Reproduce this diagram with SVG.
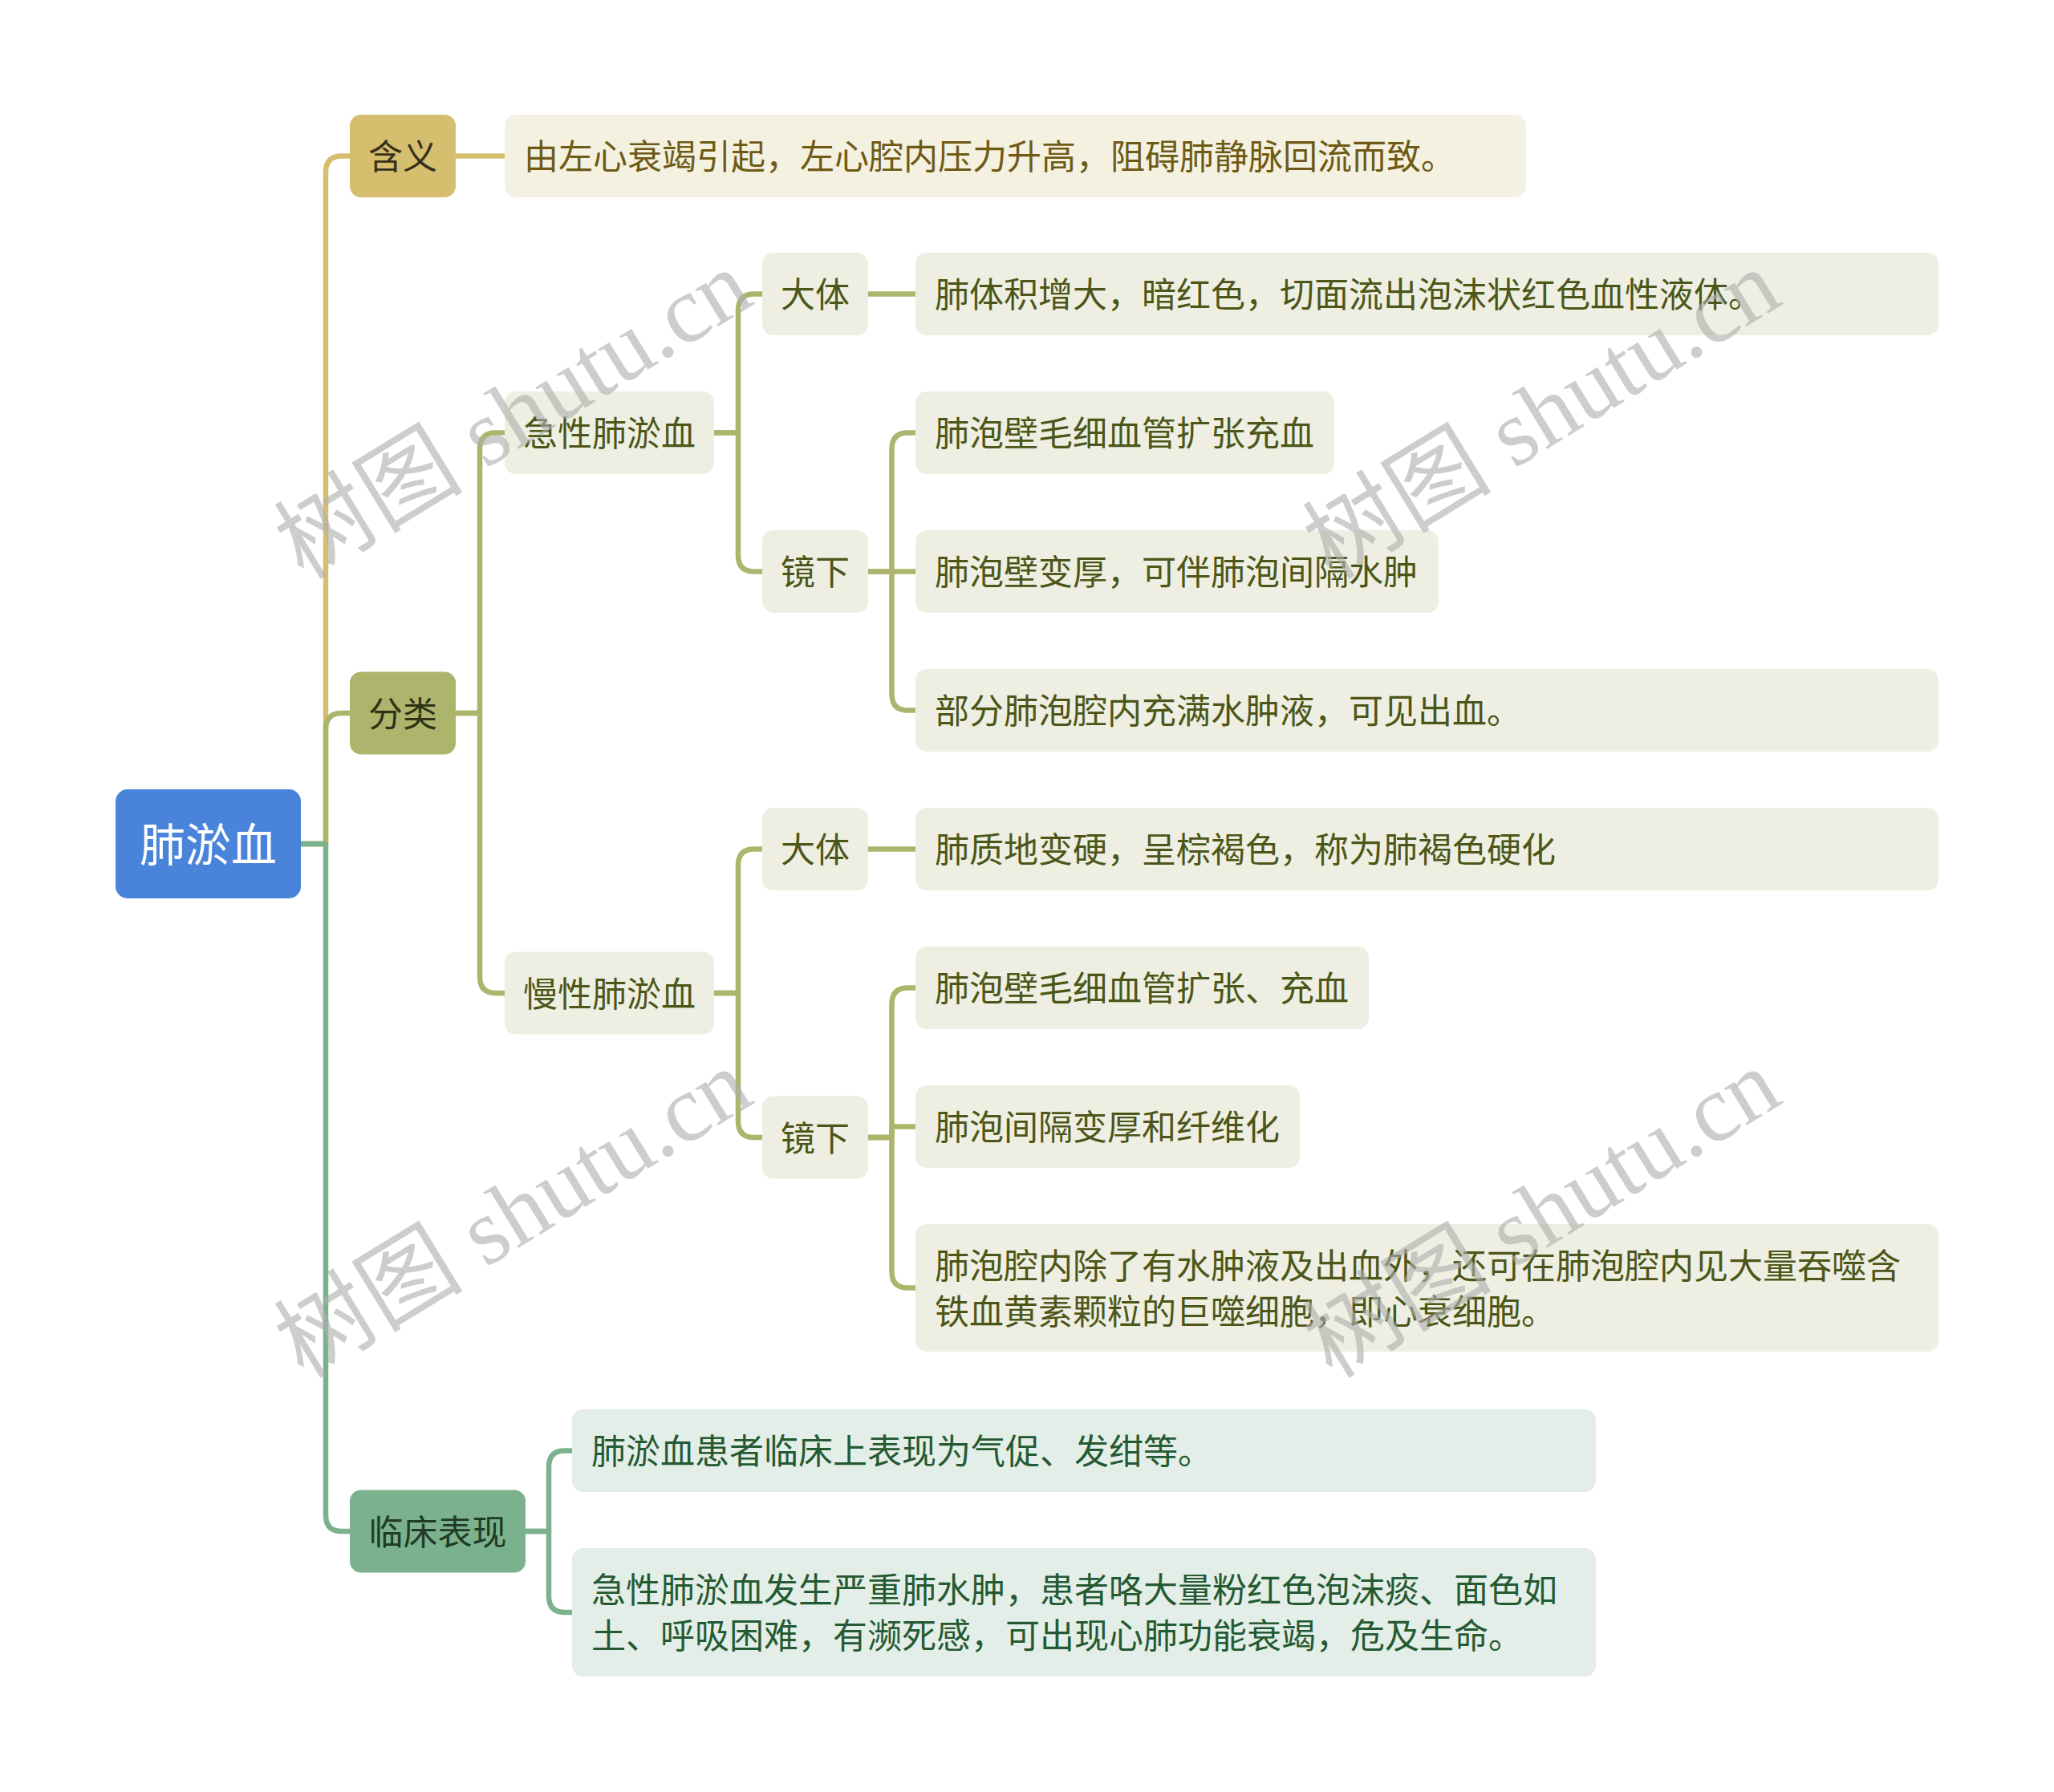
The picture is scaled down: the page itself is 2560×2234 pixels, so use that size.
<svg xmlns="http://www.w3.org/2000/svg" width="2560" height="2234" viewBox="0 0 2560 2234">
  <style>
    .bg { fill: #FFFFFF; }
    .ln { fill: none; stroke-width: 6.5; stroke-linejoin: round; }
    .gold { stroke: #D5BF6F; }
    .olive { stroke: #ADB56D; }
    .green { stroke: #7BB28D; }
    text { font-family: "Noto Sans CJK SC", "Noto Sans", sans-serif; font-size: 43px; dominant-baseline: central; }
    .c { text-anchor: middle; }
    .root-box { fill: #4A84DA; }
    .root-tx { fill: #FFFFFF; font-size: 57px; }
    .n-gold { fill: #D5BF6F; }
    .t-gold { fill: #36301A; }
    .d-gold { fill: #F4F1E1; }
    .td-gold { fill: #6E5A14; }
    .n-olive { fill: #ADB56D; }
    .t-olive { fill: #2E3316; }
    .d-olive { fill: #EEEFE2; }
    .td-olive { fill: #4C5618; }
    .n-green { fill: #7BB28D; }
    .t-green { fill: #1F3B28; }
    .d-green { fill: #E4EEE8; }
    .td-green { fill: #245A32; }
    .wm { font-family: "Liberation Serif", "Noto Sans CJK SC", serif; font-size: 118px; fill: #AFAFAF; fill-opacity: 0.62; text-anchor: middle; }
  </style>
  <rect class="bg" x="0" y="0" width="2560" height="2234"/>

  <g id="connectors">
    <path class="ln gold" d="M375,1052 H406 V214.5 Q406,194.5 426,194.5 H436"/>
    <path class="ln gold" d="M568,194.5 H629"/>
    <path class="ln olive" d="M375,1052 H406 V909 Q406,889 426,889 H436"/>
    <path class="ln olive" d="M568,889 H598 V559.5 Q598,539.5 618,539.5 H629"/>
    <path class="ln olive" d="M568,889 H598 V1218 Q598,1238 618,1238 H629"/>
    <path class="ln olive" d="M890,539.5 H920 V386.5 Q920,366.5 940,366.5 H950"/>
    <path class="ln olive" d="M890,539.5 H920 V692.5 Q920,712.5 940,712.5 H950"/>
    <path class="ln olive" d="M1082,366.5 H1141"/>
    <path class="ln olive" d="M1082,712.5 H1111.5 V559.5 Q1111.5,539.5 1131.5,539.5 H1141"/>
    <path class="ln olive" d="M1082,712.5 H1141"/>
    <path class="ln olive" d="M1082,712.5 H1111.5 V865.5 Q1111.5,885.5 1131.5,885.5 H1141"/>
    <path class="ln olive" d="M890,1238 H920 V1078.5 Q920,1058.5 940,1058.5 H950"/>
    <path class="ln olive" d="M890,1238 H920 V1398 Q920,1418 940,1418 H950"/>
    <path class="ln olive" d="M1082,1058.5 H1141"/>
    <path class="ln olive" d="M1082,1418 H1111.5 V1251.5 Q1111.5,1231.5 1131.5,1231.5 H1141"/>
    <path class="ln olive" d="M1082,1418 H1111.5 V1404.5 H1141"/>
    <path class="ln olive" d="M1082,1418 H1111.5 V1585.5 Q1111.5,1605.5 1131.5,1605.5 H1141"/>
    <path class="ln green" d="M375,1052 H406 V1889 Q406,1909 426,1909 H436"/>
    <path class="ln green" d="M655,1909 H684 V1828.5 Q684,1808.5 704,1808.5 H713"/>
    <path class="ln green" d="M655,1909 H684 V1990 Q684,2010 704,2010 H713"/>
  </g>

  <g id="root">
    <rect class="root-box" x="144" y="984" width="231" height="136" rx="15"/>
    <text class="root-tx c" x="259.5" y="1049">肺淤血</text>
  </g>

  <g id="n-hanyi">
    <rect class="n-gold" x="436" y="143" width="132" height="103" rx="14"/>
    <text class="t-gold c" x="502" y="192">含义</text>
  </g>
  <g id="n-hanyi-d">
    <rect class="d-gold" x="629" y="143" width="1273" height="103" rx="14"/>
    <text class="td-gold" x="653" y="192">由左心衰竭引起，左心腔内压力升高，阻碍肺静脉回流而致。</text>
  </g>

  <g id="n-fenlei">
    <rect class="n-olive" x="436" y="837.5" width="132" height="103" rx="14"/>
    <text class="t-olive c" x="502" y="886.5">分类</text>
  </g>

  <g id="n-jixing">
    <rect class="d-olive" x="629" y="488" width="261" height="103" rx="14"/>
    <text class="td-olive c" x="759.5" y="537">急性肺淤血</text>
  </g>
  <g id="n-jx-dati">
    <rect class="d-olive" x="950" y="315" width="132" height="103" rx="14"/>
    <text class="td-olive c" x="1016" y="364">大体</text>
  </g>
  <g id="n-jx-dati-d">
    <rect class="d-olive" x="1141" y="315" width="1275" height="103" rx="14"/>
    <text class="td-olive" x="1165" y="364">肺体积增大，暗红色，切面流出泡沫状红色血性液体。</text>
  </g>
  <g id="n-jx-jingxia">
    <rect class="d-olive" x="950" y="661" width="132" height="103" rx="14"/>
    <text class="td-olive c" x="1016" y="710">镜下</text>
  </g>
  <g id="n-jx-jx-1">
    <rect class="d-olive" x="1141" y="488" width="522" height="103" rx="14"/>
    <text class="td-olive" x="1165" y="537">肺泡壁毛细血管扩张充血</text>
  </g>
  <g id="n-jx-jx-2">
    <rect class="d-olive" x="1141" y="661" width="652" height="103" rx="14"/>
    <text class="td-olive" x="1165" y="710">肺泡壁变厚，可伴肺泡间隔水肿</text>
  </g>
  <g id="n-jx-jx-3">
    <rect class="d-olive" x="1141" y="834" width="1275" height="103" rx="14"/>
    <text class="td-olive" x="1165" y="883">部分肺泡腔内充满水肿液，可见出血。</text>
  </g>

  <g id="n-manxing">
    <rect class="d-olive" x="629" y="1186.5" width="261" height="103" rx="14"/>
    <text class="td-olive c" x="759.5" y="1235.5">慢性肺淤血</text>
  </g>
  <g id="n-mx-dati">
    <rect class="d-olive" x="950" y="1007" width="132" height="103" rx="14"/>
    <text class="td-olive c" x="1016" y="1056">大体</text>
  </g>
  <g id="n-mx-dati-d">
    <rect class="d-olive" x="1141" y="1007" width="1275" height="103" rx="14"/>
    <text class="td-olive" x="1165" y="1056">肺质地变硬，呈棕褐色，称为肺褐色硬化</text>
  </g>
  <g id="n-mx-jingxia">
    <rect class="d-olive" x="950" y="1366.5" width="132" height="103" rx="14"/>
    <text class="td-olive c" x="1016" y="1415.5">镜下</text>
  </g>
  <g id="n-mx-jx-1">
    <rect class="d-olive" x="1141" y="1180" width="565" height="103" rx="14"/>
    <text class="td-olive" x="1165" y="1229">肺泡壁毛细血管扩张、充血</text>
  </g>
  <g id="n-mx-jx-2">
    <rect class="d-olive" x="1141" y="1353" width="479" height="103" rx="14"/>
    <text class="td-olive" x="1165" y="1402">肺泡间隔变厚和纤维化</text>
  </g>
  <g id="n-mx-jx-3">
    <rect class="d-olive" x="1141" y="1526" width="1275" height="159" rx="14"/>
    <text class="td-olive" x="1165" y="1575">肺泡腔内除了有水肿液及出血外，还可在肺泡腔内见大量吞噬含</text>
    <text class="td-olive" x="1165" y="1632">铁血黄素颗粒的巨噬细胞，即心衰细胞。</text>
  </g>

  <g id="n-linchuang">
    <rect class="n-green" x="436" y="1857.5" width="219" height="103" rx="14"/>
    <text class="t-green c" x="545.5" y="1906.5">临床表现</text>
  </g>
  <g id="n-lc-1">
    <rect class="d-green" x="713" y="1757" width="1276" height="103" rx="14"/>
    <text class="td-green" x="737" y="1806">肺淤血患者临床上表现为气促、发绀等。</text>
  </g>
  <g id="n-lc-2">
    <rect class="d-green" x="713" y="1930" width="1276" height="160" rx="14"/>
    <text class="td-green" x="737" y="1979">急性肺淤血发生严重肺水肿，患者咯大量粉红色泡沫痰、面色如</text>
    <text class="td-green" x="737" y="2036">土、呼吸困难，有濒死感，可出现心肺功能衰竭，危及生命。</text>
  </g>

  <g id="watermarks">
    <text class="wm" transform="translate(640,517) rotate(-31.5)">树图 shutu.cn</text>
    <text class="wm" transform="translate(1922,517) rotate(-31.5)">树图 shutu.cn</text>
    <text class="wm" transform="translate(640,1513) rotate(-31.5)">树图 shutu.cn</text>
    <text class="wm" transform="translate(1922,1513) rotate(-31.5)">树图 shutu.cn</text>
  </g>
</svg>
